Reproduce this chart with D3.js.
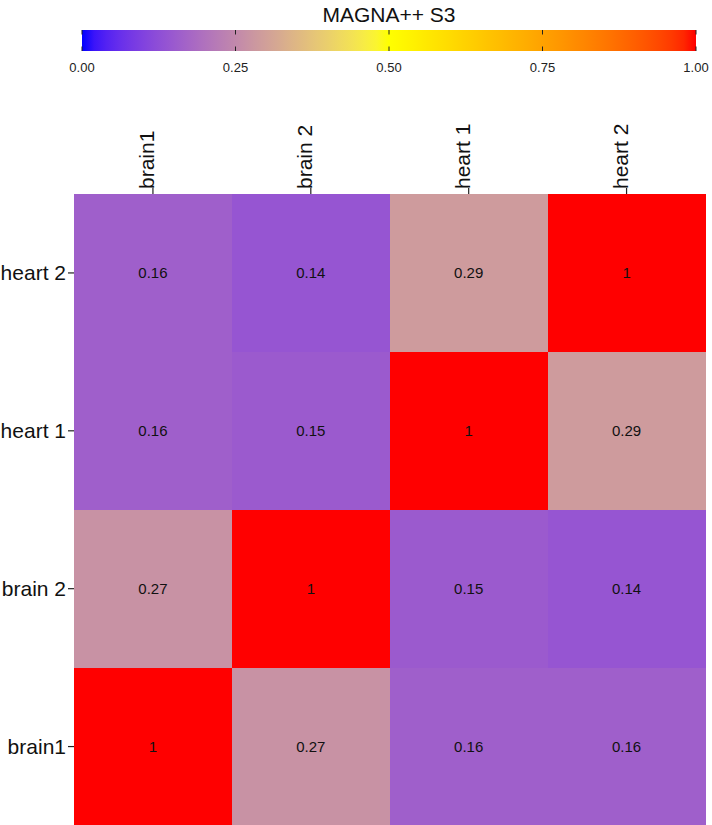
<!DOCTYPE html>
<html>
<head>
<meta charset="utf-8">
<script src="https://cdn.jsdelivr.net/npm/d3@7"></script>
<style>
  body { margin: 0; background: #fff; }
  svg { display: block; font-family: "Liberation Sans", Arial, sans-serif; }
</style>
</head>
<body>
<svg id="chart" width="712" height="825"></svg>
<script>
// ---- data ----
const columns = ["brain1", "brain 2", "heart 1", "heart 2"];
const rows = ["heart 2", "heart 1", "brain 2", "brain1"]; // top to bottom
const rowKeys = ["brain1", "brain 2", "heart 1", "heart 2"];
const values = [
  // rows: brain1, brain 2, heart 1, heart 2 ; cols: brain1, brain 2, heart 1, heart 2
  [1.00, 0.27, 0.16, 0.16],
  [0.27, 1.00, 0.15, 0.14],
  [0.16, 0.15, 1.00, 0.29],
  [0.16, 0.14, 0.29, 1.00]
];
const legendTicks = [0, 0.25, 0.5, 0.75, 1];
const legendTickLabels = ["0.00", "0.25", "0.50", "0.75", "1.00"];
const legendTitle = "MAGNA++ S3";

const svg = d3.select("#chart");

const color = d3.scaleLinear()
  .domain([0, 0.5, 1])
  .range(["#0000FF", "#FFFF00", "#FF0000"])
  .interpolate(d3.interpolateLab);

// ---- heatmap ----
const gLeft = 74, gRight = 705.5, gTop = 194, gBottom = 825.5;
const x = d3.scaleBand().domain(columns).range([gLeft, gRight]);
const y = d3.scaleBand().domain(rows).range([gTop, gBottom]);

const cells = [];
rowKeys.forEach((r, i) => columns.forEach((c, j) => cells.push({ row: r, col: c, v: values[i][j] })));

svg.append("g").selectAll("rect").data(cells).join("rect")
  .attr("x", d => x(d.col))
  .attr("y", d => y(d.row))
  .attr("width", x.bandwidth())
  .attr("height", y.bandwidth())
  .attr("fill", d => color(d.v))
  .attr("shape-rendering", "crispEdges");

svg.append("g").selectAll("text").data(cells).join("text")
  .attr("x", d => x(d.col) + x.bandwidth() / 2)
  .attr("y", d => y(d.row) + y.bandwidth() / 2)
  .attr("dy", "0.36em")
  .attr("text-anchor", "middle")
  .attr("font-size", 15)
  .attr("fill", "#111")
  .text(d => String(+d.v.toFixed(2)));

// x axis (top), rotated labels
const xg = svg.append("g");
columns.forEach(c => {
  const cx = x(c) + x.bandwidth() / 2;
  xg.append("line").attr("x1", cx).attr("x2", cx).attr("y1", gTop - 6).attr("y2", gTop)
    .attr("stroke", "#222").attr("stroke-width", 1.2);
  xg.append("text")
    .attr("transform", `translate(${cx + 1},${gTop - 5}) rotate(-90)`)
    .attr("text-anchor", "start")
    .attr("font-size", 21)
    .attr("fill", "#111")
    .text(c);
});

// y axis (left)
const yg = svg.append("g");
rows.forEach(r => {
  const cy = y(r) + y.bandwidth() / 2;
  yg.append("line").attr("x1", gLeft - 6).attr("x2", gLeft).attr("y1", cy).attr("y2", cy)
    .attr("stroke", "#222").attr("stroke-width", 1.2);
  yg.append("text")
    .attr("x", gLeft - 8)
    .attr("y", cy)
    .attr("dy", "0.36em")
    .attr("text-anchor", "end")
    .attr("font-size", 21)
    .attr("fill", "#111")
    .text(r);
});

// ---- colour bar legend ----
const lx0 = 82, lx1 = 696, ly0 = 30, ly1 = 51;
const lscale = d3.scaleLinear().domain([0, 1]).range([lx0, lx1]);
const defs = svg.append("defs");
const grad = defs.append("linearGradient").attr("id", "lg").attr("x1", "0%").attr("x2", "100%");
d3.range(0, 1.0001, 0.02).forEach(t => {
  grad.append("stop").attr("offset", (t * 100) + "%").attr("stop-color", color(t));
});
svg.append("rect").attr("x", lx0).attr("y", ly0).attr("width", lx1 - lx0).attr("height", ly1 - ly0)
  .attr("fill", "url(#lg)");

const lg = svg.append("g");
legendTicks.forEach((t, i) => {
  const tx = lscale(t);
  lg.append("line").attr("x1", tx).attr("x2", tx).attr("y1", ly0).attr("y2", ly0 + 4.5)
    .attr("stroke", "#222").attr("stroke-width", 1);
  lg.append("line").attr("x1", tx).attr("x2", tx).attr("y1", ly1 - 4.5).attr("y2", ly1)
    .attr("stroke", "#222").attr("stroke-width", 1);
  lg.append("text").attr("x", tx).attr("y", 72).attr("text-anchor", "middle")
    .attr("font-size", 13).attr("fill", "#222").text(legendTickLabels[i]);
});
svg.append("text").attr("x", (lx0 + lx1) / 2).attr("y", 22).attr("text-anchor", "middle")
  .attr("font-size", 21).attr("fill", "#111").text(legendTitle);
</script>
</body>
</html>
